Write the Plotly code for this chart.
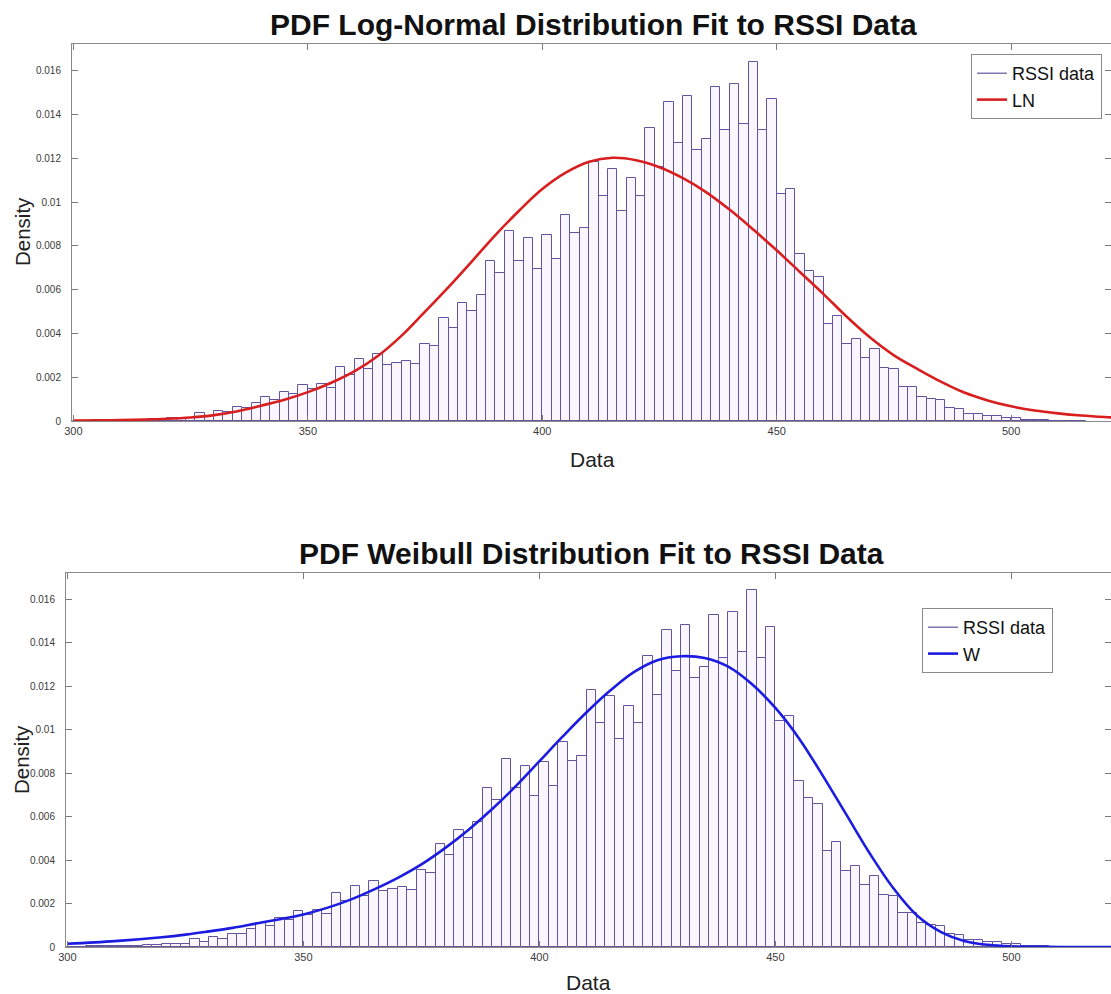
import plotly.graph_objects as go

# ---------------- data ----------------
BIN_WIDTH = 2
bin_left = list(range(300, 516, 2))  # left edges of histogram bins
density = [
    0.00002, 0.00002, 0.00003, 0.00003, 0.00004, 0.00005, 0.00006, 0.00006,   # 300-314
    0.00008, 0.00010, 0.00012, 0.00015, 0.00015, 0.00037, 0.00025, 0.00046,   # 316-330
    0.00039, 0.00062, 0.00060, 0.00081, 0.00110, 0.00096, 0.00132, 0.00122,   # 332-346
    0.00165, 0.00148, 0.00168, 0.00153, 0.00248, 0.00210, 0.00283, 0.00237,   # 348-362
    0.00305, 0.00257, 0.00265, 0.00275, 0.00262, 0.00354, 0.00342, 0.00473,   # 364-378
    0.00423, 0.00539, 0.00501, 0.00576, 0.00733, 0.00675, 0.00867, 0.00733,   # 380-394
    0.00835, 0.00695, 0.00850, 0.00740, 0.00943, 0.00858, 0.00881, 0.01183,   # 396-410
    0.01030, 0.01153, 0.00959, 0.01111, 0.01030, 0.01340, 0.01160, 0.01458,   # 412-426
    0.01270, 0.01484, 0.01237, 0.01287, 0.01527, 0.01331, 0.01542, 0.01359,   # 428-442
    0.01641, 0.01328, 0.01473, 0.01038, 0.01061, 0.00763, 0.00687, 0.00657,   # 444-458
    0.00443, 0.00481, 0.00351, 0.00374, 0.00287, 0.00328, 0.00240, 0.00237,   # 460-474
    0.00157, 0.00157, 0.00110, 0.00100, 0.00098, 0.00060, 0.00056, 0.00034,   # 476-490
    0.00034, 0.00023, 0.00022, 0.00015, 0.00015, 0.00006, 0.00005, 0.00004,   # 492-506
    0.00002, 0.00002, 0.00001, 0.00001,                                       # 508-514
]

curve_x = [300, 310, 320, 325, 330, 335, 340, 345, 350, 355, 360, 365, 370, 375,
           380, 385, 390, 395, 400, 405, 410, 415, 420, 425, 430, 435, 440, 445,
           450, 455, 460, 465, 470, 475, 480, 485, 490, 495, 500, 505, 510, 515,
           520, 525]
ln_pdf = [0.00002, 0.00004, 0.00010, 0.00016, 0.00027, 0.00045, 0.00070, 0.00097,
          0.00132, 0.00175, 0.00228, 0.00298, 0.00390, 0.00500, 0.00612, 0.00730,
          0.00850, 0.00960, 0.01060, 0.01135, 0.01185, 0.01203, 0.01192, 0.01160,
          0.01110, 0.01045, 0.00965, 0.00875, 0.00780, 0.00680, 0.00580, 0.00475,
          0.00380, 0.00300, 0.00238, 0.00180, 0.00130, 0.00094, 0.00067, 0.00048,
          0.00035, 0.00025, 0.00018, 0.00013]
w_pdf = [0.00015, 0.00027, 0.00045, 0.00057, 0.00072, 0.00088, 0.00108, 0.00128,
         0.00150, 0.00180, 0.00218, 0.00265, 0.00318, 0.00380, 0.00455, 0.00540,
         0.00635, 0.00740, 0.00855, 0.00970, 0.01080, 0.01180, 0.01265, 0.01320,
         0.01338, 0.01330, 0.01290, 0.01210, 0.01100, 0.00960, 0.00790, 0.00610,
         0.00430, 0.00270, 0.00145, 0.00070, 0.00028, 0.00010, 0.00003, 0.00001,
         0.00000, 0.00000, 0.00000, 0.00000]

x_ticks = [300, 350, 400, 450, 500]
y_ticks = [0, 0.002, 0.004, 0.006, 0.008, 0.01, 0.012, 0.014, 0.016]
y_tick_text = ["0", "0.002", "0.004", "0.006", "0.008", "0.01", "0.012", "0.014", "0.016"]

titles = ["PDF Log-Normal Distribution Fit to RSSI Data",
          "PDF Weibull Distribution Fit to RSSI Data"]

# ---------------- style ----------------
W, H = 1111, 994
FONT = "Liberation Sans"
BAR_FILL = "rgba(250,246,255,1)"
BAR_EDGE = "#62559e"
RED = "#d81e1e"
BLUE = "#1c1ce0"

bin_center = [b + BIN_WIDTH / 2 for b in bin_left]

fig = go.Figure()

def add_panel(xa, ya, fit_y, fit_name, fit_color, legend_id):
    fig.add_trace(go.Bar(
        x=bin_center, y=density, width=BIN_WIDTH,
        marker=dict(color=BAR_FILL, line=dict(color=BAR_EDGE, width=1)),
        xaxis=xa, yaxis=ya, showlegend=False, name="RSSI data"))
    # legend-only sample for the histogram (thin line like the original legend)
    fig.add_trace(go.Scatter(
        x=[None], y=[None], mode="lines", name="RSSI data",
        line=dict(color=BAR_EDGE, width=1.2),
        xaxis=xa, yaxis=ya, legend=legend_id))
    fig.add_trace(go.Scatter(
        x=curve_x, y=fit_y, mode="lines", name=fit_name,
        line=dict(color=fit_color, width=2.6, shape="spline", smoothing=1.0),
        xaxis=xa, yaxis=ya, legend=legend_id))

add_panel("x", "y", ln_pdf, "LN", RED, "legend")
add_panel("x2", "y2", w_pdf, "W", BLUE, "legend2")

axis_common = dict(
    showline=True, linecolor="#8a8a8a", linewidth=1, mirror="ticks",
    ticks="inside", ticklen=6, tickcolor="#7a7a7a", showgrid=False,
    zeroline=False, automargin=False,
)
x_font = dict(family=FONT, size=11, color="#3a3a3a")
y_font = dict(family=FONT, size=10, color="#3a3a3a")

top_dom_y = [1 - 421 / H, 1 - 44 / H]
bot_dom_y = [1 - 947 / H, 1 - 573 / H]

legend_common = dict(xanchor="right", yanchor="top", bgcolor="white",
                     bordercolor="#8a8a8a", borderwidth=1,
                     font=dict(family=FONT, size=18, color="#111"),
                     tracegroupgap=0, itemwidth=30)

fig.update_layout(
    width=W, height=H,
    margin=dict(l=0, r=0, t=0, b=0),
    paper_bgcolor="white", plot_bgcolor="white",
    bargap=0,
    xaxis=dict(domain=[72 / W, 1], range=[299.7, 521.3], tickvals=x_ticks,
               anchor="y", tickfont=x_font, **axis_common),
    yaxis=dict(domain=top_dom_y, range=[0, 0.01723], tickvals=y_ticks,
               ticktext=y_tick_text, anchor="x", tickfont=y_font,
               ticklabelstandoff=8, **axis_common),
    xaxis2=dict(domain=[66 / W, 1], range=[299.7, 521.1], tickvals=x_ticks,
                anchor="y2", tickfont=x_font, **axis_common),
    yaxis2=dict(domain=bot_dom_y, range=[0, 0.01721], tickvals=y_ticks,
                ticktext=y_tick_text, anchor="x2", tickfont=y_font,
                ticklabelstandoff=8, **axis_common),
    legend=dict(x=1102 / W, y=1 - 54 / H, **legend_common),
    legend2=dict(x=1053 / W, y=1 - 608 / H, **legend_common),
)

ann = [
    dict(text="<b>" + titles[0] + "</b>", x=593 / W, y=1 - 24 / H),
    dict(text="<b>" + titles[1] + "</b>", x=591 / W, y=1 - 553 / H),
]
for a in ann:
    fig.add_annotation(xref="paper", yref="paper", showarrow=False,
                       xanchor="center", yanchor="middle",
                       font=dict(family=FONT, size=30, color="#111"), **a)

for txt, x, y in [("Data", 592, 460), ("Data", 588, 982)]:
    fig.add_annotation(text=txt, xref="paper", yref="paper", x=x / W, y=1 - y / H,
                       showarrow=False, xanchor="center", yanchor="middle",
                       font=dict(family=FONT, size=21, color="#222"))
for x, y in [(23, 232), (21, 760)]:
    fig.add_annotation(text="Density", xref="paper", yref="paper", x=x / W,
                       y=1 - y / H, textangle=-90, showarrow=False,
                       xanchor="center", yanchor="middle",
                       font=dict(family=FONT, size=20.5, color="#222"))

fig.write_html(
    "out.html",
    config={"displayModeBar": False},
    post_script="document.body.style.margin='0px';document.body.style.overflow='hidden';",
)
